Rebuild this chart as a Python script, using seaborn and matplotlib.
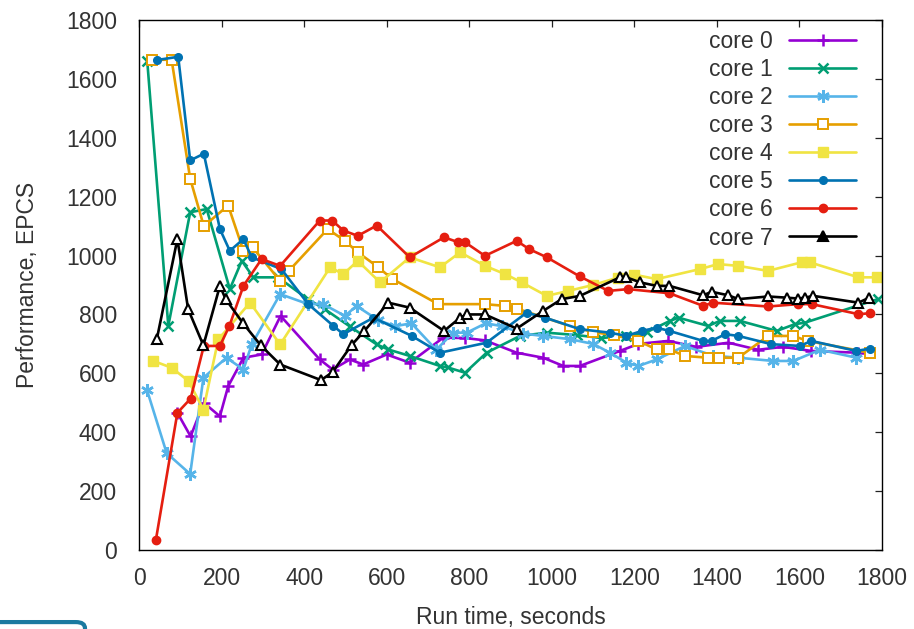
import matplotlib
matplotlib.use("Agg")
import matplotlib.pyplot as plt
from matplotlib.patches import FancyBboxPatch
import seaborn as sns
import pandas as pd

# Per-core performance samples (run time in seconds, EPCS)
core0_t = [93, 125, 157, 196, 216, 253, 297, 343, 438, 469, 511, 543, 600, 656, 737, 790, 838, 915,
           979, 1028, 1068, 1165, 1210, 1282, 1350, 1428, 1500, 1560, 1629, 1741]
core0_v = [466, 386, 500, 454, 556, 653, 664, 795, 647, 613, 647, 630, 664, 636, 721, 720, 712, 670,
           653, 625, 625, 676, 700, 710, 690, 704, 680, 690, 676, 670]

core1_t = [20, 71, 124, 164, 220, 249, 277, 337, 409, 450, 510, 576, 604, 656, 729, 748, 790, 842,
           923, 988, 1060, 1120, 1181, 1230, 1286, 1307, 1379, 1407, 1456, 1545, 1589, 1613, 1790]
core1_v = [1660, 761, 1147, 1158, 886, 982, 926, 926, 852, 818, 760, 698, 681, 659, 625, 620, 602, 670,
           727, 738, 730, 720, 727, 740, 778, 789, 761, 778, 778, 744, 767, 772, 852]

core2_t = [19, 67, 124, 156, 212, 253, 273, 342, 410, 446, 499, 527, 580, 620, 660, 720, 761, 794,
           840, 880, 930, 979, 1044, 1100, 1141, 1181, 1210, 1254, 1323, 1390, 1452, 1537, 1585, 1650, 1738]
core2_v = [545, 329, 258, 585, 653, 613, 698, 869, 835, 835, 795, 829, 780, 760, 770, 680, 738, 738,
           770, 760, 735, 727, 716, 700, 670, 636, 625, 647, 693, 660, 653, 642, 642, 680, 653]

core3_t = [31, 79, 124, 157, 216, 253, 275, 342, 363, 457, 499, 530, 580, 612, 725, 838, 887, 915,
           1044, 1100, 1150, 1210, 1254, 1285, 1323, 1379, 1404, 1452, 1524, 1585, 1620, 1771]
core3_v = [1665, 1665, 1261, 1100, 1170, 1016, 1028, 914, 948, 1090, 1050, 1011, 960, 922, 835, 835, 829, 820,
           761, 740, 730, 710, 681, 681, 659, 653, 653, 653, 727, 727, 710, 670]

core4_t = [35, 79, 120, 156, 192, 269, 342, 463, 495, 530, 584, 656, 729, 778, 838, 887, 927, 988,
           1040, 1100, 1160, 1200, 1254, 1359, 1403, 1452, 1524, 1605, 1625, 1743, 1787]
core4_v = [642, 619, 574, 477, 715, 840, 698, 960, 937, 982, 909, 994, 960, 1011, 965, 937, 909, 863,
           880, 900, 925, 935, 920, 954, 971, 965, 948, 977, 977, 926, 926]

core5_t = [43, 95, 124, 157, 196, 220, 253, 273, 345, 410, 471, 495, 568, 661, 729, 842, 939, 984,
           1068, 1141, 1181, 1218, 1254, 1285, 1367, 1387, 1420, 1452, 1532, 1601, 1629, 1738, 1771]
core5_v = [1664, 1675, 1323, 1346, 1090, 1016, 1056, 994, 954, 835, 761, 733, 789, 727, 670, 704, 806, 789,
           750, 738, 727, 744, 755, 744, 710, 710, 733, 727, 699, 693, 710, 676, 684]

core6_t = [41, 93, 125, 157, 196, 219, 253, 297, 342, 438, 468, 495, 530, 576, 656, 739, 774, 790,
           838, 915, 945, 988, 1068, 1137, 1185, 1285, 1367, 1390, 1524, 1597, 1630, 1743, 1771]
core6_v = [35, 466, 514, 693, 693, 761, 897, 988, 965, 1119, 1119, 1085, 1067, 1102, 994, 1062, 1045, 1045,
           999, 1050, 1022, 994, 929, 880, 886, 872, 829, 840, 827, 835, 835, 801, 804]

core7_t = [43, 93, 119, 156, 196, 210, 251, 295, 342, 441, 469, 515, 546, 604, 656, 739, 778, 794,
           838, 915, 979, 1024, 1068, 1165, 1181, 1214, 1254, 1285, 1367, 1387, 1428, 1452, 1524, 1569,
           1597, 1613, 1634, 1743, 1769]
core7_v = [715, 1056, 818, 695, 897, 852, 772, 695, 630, 577, 604, 696, 744, 840, 823, 744, 789, 800,
           800, 752, 812, 852, 863, 926, 926, 909, 897, 897, 865, 877, 865, 852, 861, 857,
           854, 857, 863, 840, 857]

core_names = ["core 0", "core 1", "core 2", "core 3", "core 4", "core 5", "core 6", "core 7"]
times = [core0_t, core1_t, core2_t, core3_t, core4_t, core5_t, core6_t, core7_t]
values = [core0_v, core1_v, core2_v, core3_v, core4_v, core5_v, core6_v, core7_v]
tick_values = [0, 200, 400, 600, 800, 1000, 1200, 1400, 1600, 1800]

colors = ["#9400D3", "#009E73", "#56B4E9", "#E69F00", "#F0E442", "#0072B2", "#E51E10", "#000000"]
styles = [
    dict(marker="+", ms=9, mew=1.8),
    dict(marker="x", ms=7, mew=1.8),
    dict(marker=(6, 2, 0), ms=9, mew=1.8),
    dict(marker="s", ms=6.5, mew=1.4, markerfacecolor="white"),
    dict(marker="s", ms=7, mew=1.0),
    dict(marker="o", ms=5.5, mew=1.0),
    dict(marker="o", ms=6, mew=1.0),
    dict(marker="^", ms=7, mew=1.5, markerfacecolor="white"),
]

FS = 16.5

sns.set_theme(style="white")
plt.rcParams["font.family"] = ["Liberation Sans", "DejaVu Sans"]
plt.rcParams["text.color"] = "#333333"
plt.rcParams["axes.labelcolor"] = "#333333"

fig = plt.figure(figsize=(9.14, 6.29), dpi=100)
ax = fig.add_axes([139 / 914, 1 - 550 / 629, (882 - 139) / 914, (550 - 20) / 629])

frames = []
for name, t, v in zip(core_names, times, values):
    frames.append(pd.DataFrame({"time": t, "perf": v, "core": name}))
df = pd.concat(frames, ignore_index=True)

for name, col, st in zip(core_names, colors, styles):
    sub = df[df["core"] == name]
    sns.lineplot(data=sub, x="time", y="perf", ax=ax, color=col, lw=1.9,
                 label=name, markeredgecolor=col, **st)

ax.set_xlim(0, 1800)
ax.set_ylim(0, 1800)
ax.set_xticks(tick_values)
ax.set_yticks(tick_values)
ax.tick_params(direction="in", length=5, width=0.9, top=True, right=True,
               labelsize=FS, colors="#222222", labelcolor="#333333")
ax.tick_params(axis="y", pad=16)
ax.tick_params(axis="x", pad=12)
for s in ax.spines.values():
    s.set_color("black")
    s.set_linewidth(1.0)
ax.set_xlabel("Run time, seconds", fontsize=FS, labelpad=12)
ax.set_ylabel("Performance, EPCS", fontsize=FS, labelpad=19)
ax.grid(False)

leg = ax.legend(loc="upper right", frameon=False, markerfirst=False, fontsize=FS,
                handlelength=2.9, handletextpad=0.74, labelspacing=0.22,
                borderaxespad=0.0, bbox_to_anchor=(0.977, 0.998))
for txt in leg.get_texts():
    txt.set_color("#333333")
leg.legend_handles[7].set_markerfacecolor("black")

# small rounded frame peeking in at the bottom-left edge
fig.patches.append(FancyBboxPatch((-0.02, -0.03), 0.113, 0.041,
                                  boxstyle="round,pad=0,rounding_size=0.01",
                                  transform=fig.transFigure, fill=False,
                                  edgecolor="#1b7aa0", lw=3, clip_on=False))

fig.savefig("out.png", dpi=100)
